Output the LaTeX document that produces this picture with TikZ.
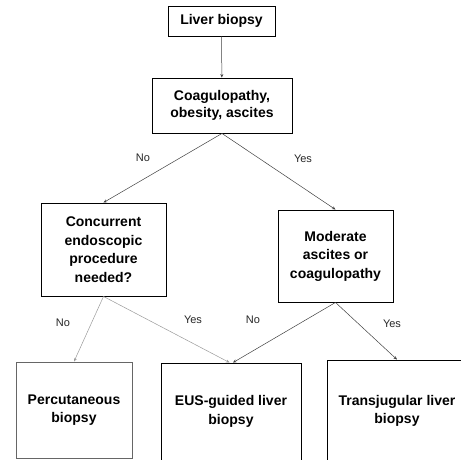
\documentclass[tikz,border=0pt]{standalone}
\usepackage{fontspec}
\setmainfont{Liberation Sans}
\usepackage{tikz}
\usetikzlibrary{arrows.meta,positioning}
\definecolor{edgedark}{HTML}{404040}
\definecolor{edgelight}{HTML}{9A9A9A}

\begin{document}
\begin{tikzpicture}[x=1pt,y=-1pt,
    box/.style={draw=black,line width=0.9pt,align=center,inner sep=2pt,font=\bfseries\fontsize{14}{18.5}\selectfont},
    answer/.style={font=\fontsize{11}{13}\selectfont,color=black!85},
    flow/.style={-{Stealth[length=3.5pt,width=3pt]},draw=edgedark,line width=0.5pt},
    faint/.style={flow,draw=edgelight}
]
\useasboundingbox (0,0) rectangle (461,459);
\clip (0,0) rectangle (461,459);
% decision boxes
\node[box,minimum width=107pt,minimum height=30pt] (start) at (221.5,21) {Liver biopsy};
\node[box,minimum width=140pt,minimum height=55pt,font=\bfseries\fontsize{14}{17}\selectfont] (coag) at (222,105.5) {Coagulopathy,\\obesity, ascites};
\node[box,minimum width=125pt,minimum height=93pt] (endo) at (103.5,249.5) {Concurrent\\endoscopic\\procedure\\needed?};
\node[box,minimum width=115pt,minimum height=92pt] (mod) at (335.5,256) {Moderate\\ascites or\\coagulopathy};
% outcomes
\node[box,minimum width=116pt,minimum height=96pt,draw=black!60] (perc) at (74,410) {Percutaneous\\biopsy};
\node[box,minimum width=140pt,minimum height=97pt] (eus) at (231,411.5) {EUS-guided liver\\biopsy};
\node[box,minimum width=140pt,minimum height=102pt] (tjlb) at (397,411) {Transjugular liver\\biopsy};
% connectors
\draw[flow] (start) -- (coag);
\draw[flow] (coag.south) -- (endo.north);
\draw[flow] (coag.south) -- (mod.north);
\draw[faint] (endo.south) -- (perc.north);
\draw[faint] (endo.south) -- ([xshift=-1.5pt]eus.north);
\draw[flow] (mod.south) -- ([xshift=2pt]eus.north);
\draw[flow] (mod.south) -- (tjlb.north);
% answers
\node[answer] (no1) at (143,158) {No};
\node[answer] (yes1) at (303,159) {Yes};
\node[answer] (no2) at (63,323) {No};
\node[answer] (yes2) at (193,320) {Yes};
\node[answer] (no3) at (253,320) {No};
\node[answer] (yes3) at (392,324) {Yes};
\end{tikzpicture}
\end{document}
